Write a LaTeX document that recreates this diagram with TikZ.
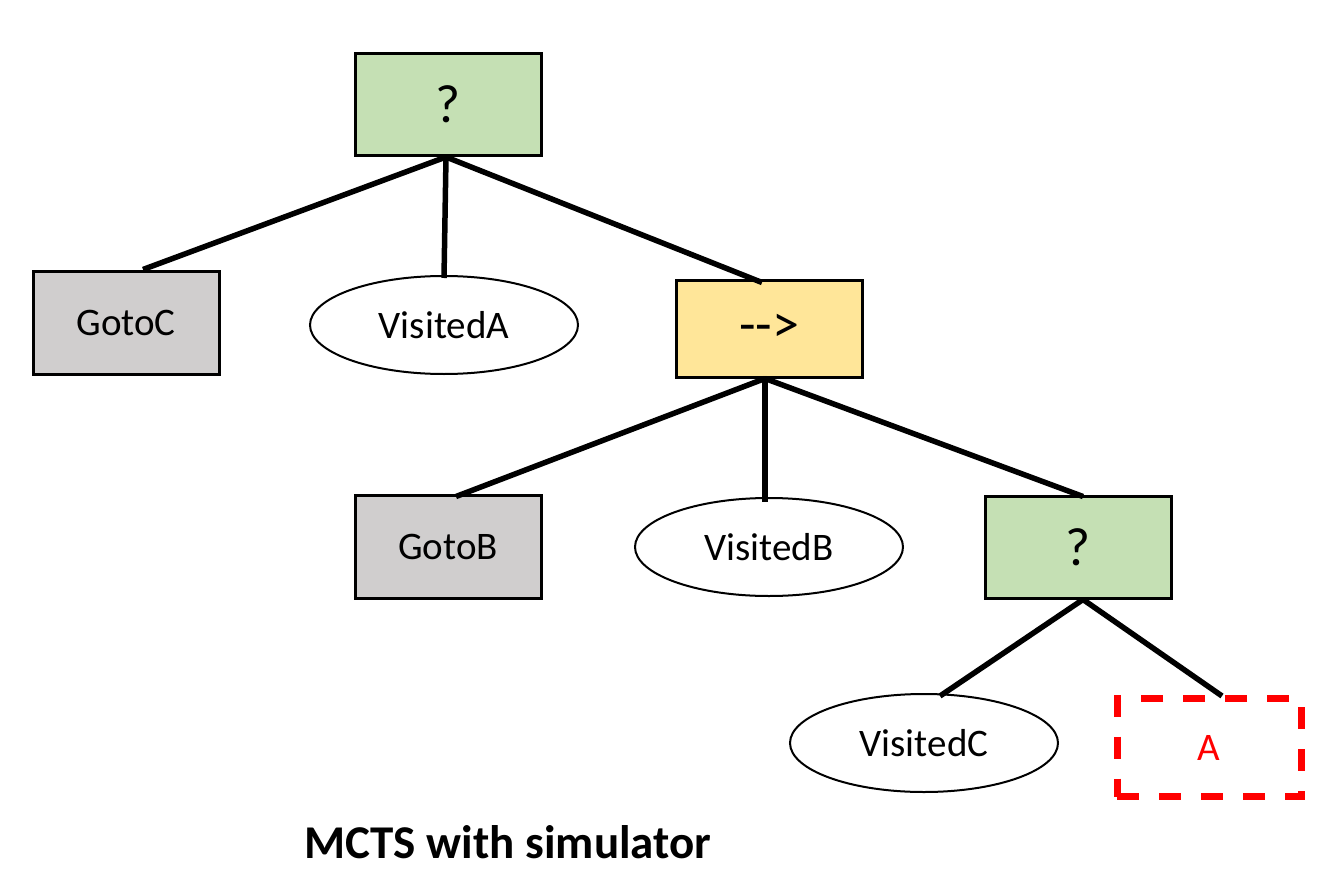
\documentclass[tikz,border=0pt]{standalone}
\usepackage{fontspec}
\setmainfont{Carlito}
\usetikzlibrary{shapes.geometric}
\definecolor{selgreen}{HTML}{C5E0B4}
\definecolor{seqyellow}{HTML}{FFE699}
\definecolor{actgrey}{HTML}{D0CECE}
\tikzset{
  ctrlbox/.style={draw=black, line width=3pt, minimum width=186pt, minimum height=102pt, inner sep=0pt, font=\fontsize{54}{62}\selectfont},
  actbox/.style={draw=black, line width=3pt, fill=actgrey, minimum width=186pt, minimum height=103pt, inner sep=0pt, font=\fontsize{39}{46}\selectfont},
  condell/.style={draw=black, ellipse, line width=2pt, minimum width=268pt, minimum height=98pt, inner sep=0pt, font=\fontsize{39}{46}\selectfont},
  newbox/.style={draw=red, text=red, dash pattern=on 22pt off 20pt, line width=7pt, minimum width=184pt, minimum height=98pt, inner sep=0pt, font=\fontsize{39}{46}\selectfont},
  edge/.style={line width=5.5pt}
}
\begin{document}
\begin{tikzpicture}[x=1pt, y=-1pt]
  \useasboundingbox (0,0) rectangle (1331,880);
  \node[ctrlbox, fill=selgreen] (root) at (448,104.5) {?};
  \node[actbox] (gotoc) at (126,322.5) {GotoC};
  \node[condell] (visa) at (444,325) {VisitedA};
  \node[ctrlbox, fill=seqyellow, minimum height=97pt] (seq) at (769,328.5) {-{}->};
  \node[actbox] (gotob) at (448,546.5) {GotoB};
  \node[condell] (visb) at (769,547) {VisitedB};
  \node[ctrlbox, fill=selgreen] (sel) at (1078,547) {?};
  \node[condell] (visc) at (924,743) {VisitedC};
  \node[newbox] (act) at (1209,747.5) {A};
  \node[font=\fontsize{47}{55}\selectfont\bfseries] (title) at (508,842) {MCTS with simulator};
  \draw[edge] ([xshift=-2pt]root.south) -- ([xshift=17pt]gotoc.north);
  \draw[edge] ([xshift=-2pt]root.south) -- ([yshift=-3pt]visa.north);
  \draw[edge] ([xshift=-2pt]root.south) -- ([xshift=-7pt,yshift=-4pt]seq.north);
  \draw[edge] ([xshift=-4pt]seq.south) -- ([xshift=8pt,yshift=-3pt]gotob.north);
  \draw[edge] ([xshift=-4pt]seq.south) -- ([xshift=-4pt,yshift=-5pt]visb.north);
  \draw[edge] ([xshift=-4pt]seq.south) -- ([xshift=5pt,yshift=-2pt]sel.north);
  \draw[edge] ([xshift=5pt]sel.south) -- ([xshift=16pt,yshift=-3pt]visc.north);
  \draw[edge] ([xshift=5pt]sel.south) -- ([xshift=13pt,yshift=-1pt]act.north);
\end{tikzpicture}
\end{document}
